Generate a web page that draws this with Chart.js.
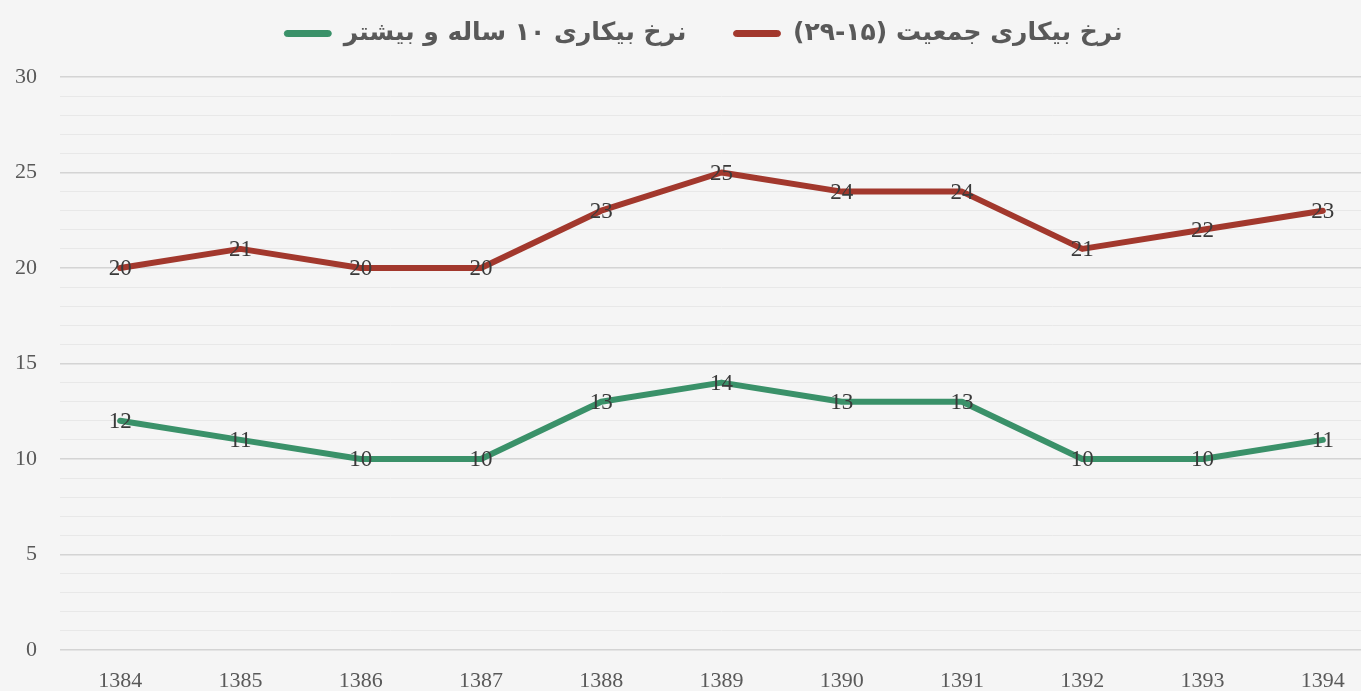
<!DOCTYPE html>
<html>
<head>
<meta charset="utf-8">
<script src="https://cdn.jsdelivr.net/npm/chart.js@4.4.1/dist/chart.umd.min.js"></script>
<style>
  html, body { margin: 0; padding: 0; overflow: hidden; background: #f5f5f5; }
  #wrap { position: absolute; left: 0; top: 0; width: 1383px; height: 706px; }
</style>
</head>
<body>
<div id="wrap"><canvas id="c"></canvas></div>
<script>
const categories = ['1384','1385','1386','1387','1388','1389','1390','1391','1392','1393','1394'];
const youthRate = [20, 21, 20, 20, 23, 25, 24, 24, 21, 22, 23];
const totalRate = [12, 11, 10, 10, 13, 14, 13, 13, 10, 10, 11];
const youthLabel = 'نرخ بیکاری جمعیت (۱۵-\u200F۲۹)';
const totalLabel = 'نرخ بیکاری ۱۰ ساله و بیشتر';
const yTickLabels = ['0','5','10','15','20','25','30'];

const RED = '#A2382D';
const GREEN = '#3A9169';

const valueLabels = {
  id: 'valueLabels',
  afterDatasetsDraw(chart) {
    const ctx = chart.ctx;
    ctx.save();
    ctx.font = '23px "Liberation Serif", serif';
    ctx.fillStyle = '#3a3a3a';
    ctx.textAlign = 'center';
    ctx.textBaseline = 'middle';
    chart.data.datasets.forEach((ds, i) => {
      const meta = chart.getDatasetMeta(i);
      meta.data.forEach((pt, j) => {
        ctx.fillText(String(ds.data[j]), pt.x, pt.y + 1);
      });
    });
    ctx.restore();
  }
};

const legendSize = {
  id: 'legendSize',
  afterInit(chart) {
    const lg = chart.legend;
    if (lg && !lg._patched) {
      const origFit = lg.fit;
      lg.fit = function () { origFit.call(this); this.height = 77; };
      const origDraw = lg.draw;
      lg.draw = function () {
        const c = this.ctx;
        c.save();
        c.translate(12, -26);
        origDraw.call(this);
        c.restore();
      };
      lg._patched = true;
    }
  }
};

new Chart(document.getElementById('c'), {
  type: 'line',
  data: {
    labels: categories,
    datasets: [
      { label: totalLabel, data: totalRate, borderColor: GREEN, backgroundColor: GREEN,
        borderWidth: 6, pointRadius: 0, tension: 0, borderJoinStyle: 'round', borderCapStyle: 'round' },
      { label: youthLabel, data: youthRate, borderColor: RED, backgroundColor: RED,
        borderWidth: 6, pointRadius: 0, tension: 0, borderJoinStyle: 'round', borderCapStyle: 'round' }
    ]
  },
  options: {
    responsive: true,
    maintainAspectRatio: false,
    animation: false,
    layout: { padding: { left: 0, right: 0, top: 0, bottom: 0 } },
    plugins: {
      tooltip: { enabled: false },
      legend: {
        position: 'top',
        textDirection: 'rtl',
        labels: {
          color: '#595959',
          font: { family: '"DejaVu Sans", sans-serif', size: 25, weight: 'bold' },
          boxWidth: 47,
          boxHeight: 6,
          useBorderRadius: true,
          borderRadius: 3,
          padding: 47,
          generateLabels(chart) {
            const items = Chart.defaults.plugins.legend.labels.generateLabels(chart);
            items.forEach(it => { it.lineWidth = 1; it.fillStyle = it.strokeStyle; });
            return items;
          }
        }
      }
    },
    scales: {
      x: {
        offset: true,
        grid: { display: false, drawTicks: false },
        border: { display: false },
        ticks: {
          color: '#595959',
          padding: 18,
          maxRotation: 0,
          font: { family: '"Liberation Serif", serif', size: 22 }
        },
        afterFit(scale) { scale.height = 56; }
      },
      y: {
        min: 0,
        max: 30,
        border: { display: false },
        grid: {
          drawTicks: false,
          color: ctx => (ctx.tick && ctx.tick.value % 5 === 0) ? '#d4d4d4' : '#e8e8e8',
          lineWidth: ctx => (ctx.tick && ctx.tick.value % 5 === 0) ? 1.5 : 1
        },
        ticks: {
          stepSize: 1,
          autoSkip: false,
          color: '#595959',
          padding: 23,
          font: { family: '"Liberation Serif", serif', size: 22 },
          callback: v => (v % 5 === 0 && yTickLabels.includes(String(v))) ? String(v) : ''
        },
        afterFit(scale) { scale.width = 60; }
      }
    }
  },
  plugins: [valueLabels, legendSize]
});
</script>
</body>
</html>
